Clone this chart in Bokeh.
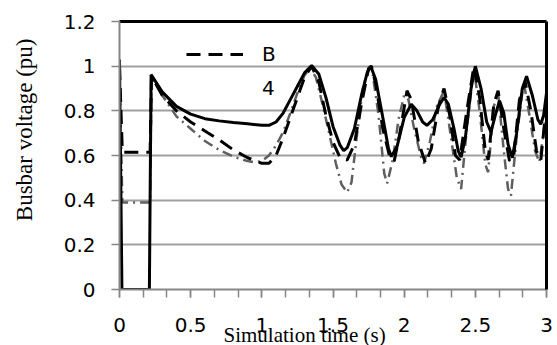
from bokeh.plotting import figure
from bokeh.models import (FixedTicker, LinearAxis, Legend, LegendItem, Title,
                          Range1d, NumeralTickFormatter)
from bokeh.embed import file_html
from bokeh.resources import INLINE

# ---------------- data ----------------
T_SOLID = [0, 0.017, 0.2, 0.21, 0.222, 0.3, 0.4, 0.5, 0.6, 0.7, 0.8, 0.9, 1.0,
           1.05, 1.1, 1.15, 1.2, 1.25, 1.3, 1.35, 1.4, 1.45, 1.5, 1.55, 1.575,
           1.6, 1.65, 1.7, 1.74, 1.765, 1.8, 1.85, 1.89, 1.91, 1.95, 2.0, 2.05,
           2.09, 2.13, 2.16, 2.2, 2.25, 2.28, 2.31, 2.35, 2.38, 2.4, 2.43, 2.47,
           2.5, 2.54, 2.58, 2.61, 2.64, 2.67, 2.7, 2.73, 2.76, 2.79, 2.83, 2.86,
           2.9, 2.94, 2.96, 2.98, 3.0]
V_SOLID = [1.03, 0, 0, 0, 0.962, 0.885, 0.82, 0.785, 0.765, 0.755, 0.748, 0.742,
           0.735, 0.735, 0.75, 0.79, 0.85, 0.91, 0.97, 1.003, 0.965, 0.86, 0.73,
           0.645, 0.622, 0.635, 0.72, 0.87, 0.97, 1.0, 0.94, 0.77, 0.63, 0.595,
           0.64, 0.77, 0.83, 0.8, 0.75, 0.735, 0.76, 0.83, 0.86, 0.83, 0.72,
           0.62, 0.593, 0.68, 0.9, 1.0, 0.9, 0.75, 0.705, 0.78, 0.845, 0.79,
           0.65, 0.59, 0.7, 0.9, 0.955, 0.87, 0.76, 0.74, 0.78, 0.88]

T_B = [0, 0.02, 0.2, 0.215, 0.225, 0.3, 0.4, 0.5, 0.6, 0.7, 0.8, 0.9, 1.0, 1.05,
       1.1, 1.15, 1.2, 1.25, 1.3, 1.35, 1.4, 1.45, 1.5, 1.55, 1.6, 1.65, 1.7,
       1.75, 1.77, 1.8, 1.85, 1.9, 1.93, 1.97, 2.02, 2.05, 2.1, 2.15, 2.19, 2.24,
       2.28, 2.32, 2.36, 2.39, 2.44, 2.49, 2.53, 2.57, 2.59, 2.63, 2.66, 2.7,
       2.74, 2.77, 2.81, 2.85, 2.89, 2.93, 2.96, 3.0]
V_B = [1.0, 0.615, 0.615, 0.615, 0.955, 0.87, 0.8, 0.75, 0.71, 0.67, 0.625,
       0.59, 0.565, 0.565, 0.6, 0.68, 0.77, 0.86, 0.95, 1.0, 0.93, 0.78, 0.66,
       0.59, 0.58, 0.65, 0.83, 0.99, 1.0, 0.92, 0.72, 0.59, 0.575, 0.7, 0.89,
       0.85, 0.66, 0.565, 0.63, 0.82, 0.9, 0.78, 0.6, 0.58, 0.8, 1.0, 0.86,
       0.62, 0.58, 0.83, 0.89, 0.72, 0.575, 0.6, 0.85, 0.93, 0.8, 0.62, 0.58,
       0.83]

T_DD = [0, 0.02, 0.2, 0.215, 0.225, 0.3, 0.4, 0.5, 0.6, 0.7, 0.8, 0.9, 0.95,
        1.0, 1.05, 1.1, 1.15, 1.2, 1.25, 1.3, 1.34, 1.38, 1.43, 1.48, 1.52, 1.56,
        1.6, 1.63, 1.67, 1.71, 1.75, 1.78, 1.82, 1.86, 1.88, 1.92, 1.96, 2.0,
        2.03, 2.07, 2.12, 2.14, 2.18, 2.23, 2.28, 2.32, 2.37, 2.4, 2.44, 2.49,
        2.53, 2.57, 2.59, 2.63, 2.66, 2.7, 2.73, 2.75, 2.79, 2.84, 2.88, 2.92,
        2.95, 2.98, 3.0]
V_DD = [1.0, 0.39, 0.39, 0.39, 0.955, 0.87, 0.775, 0.72, 0.665, 0.625, 0.595,
        0.575, 0.57, 0.575, 0.6, 0.645, 0.705, 0.79, 0.88, 0.96, 0.99, 0.95,
        0.82, 0.68, 0.565, 0.47, 0.435, 0.48, 0.7, 0.9, 0.99, 0.96, 0.78, 0.52,
        0.475, 0.58, 0.76, 0.87, 0.85, 0.72, 0.59, 0.565, 0.66, 0.82, 0.89,
        0.72, 0.5, 0.45, 0.72, 0.99, 0.8, 0.56, 0.525, 0.82, 0.88, 0.62, 0.45,
        0.42, 0.68, 0.93, 0.78, 0.62, 0.57, 0.7, 0.85]

X_TICKS = [0, 0.5, 1, 1.5, 2, 2.5, 3]
X_TICK_LABELS = ["0", "0.5", "1", "1.5", "2", "2.5", "3"]
X_MINOR = [0, 1/6, 2/6, 0.5, 4/6, 5/6, 1, 7/6, 8/6, 1.5, 10/6, 11/6, 2,
           13/6, 14/6, 2.5, 16/6, 17/6, 3]
Y_TICKS = [0, 0.2, 0.4, 0.6, 0.8, 1.0, 1.2]
Y_TICK_LABELS = ["0", "0.2", "0.4", "0.6", "0.8", "1", "1.2"]
GRID_Y = [0.2, 0.4, 0.6, 0.8, 1.0]

LEGEND_LABELS = ["B", "4"]
X_TITLE = "Simulation time (s)"
Y_TITLE = "Busbar voltage (pu)"

# ---------------- figure ----------------
p = figure(width=557, height=345, x_range=Range1d(0, 3), y_range=Range1d(0, 1.2),
           output_backend="svg", toolbar_location=None,
           min_border_left=119, min_border_right=11, min_border_top=21,
           min_border_bottom=56)
p.outline_line_color = None
p.background_fill_color = "white"
p.border_fill_color = "white"

p.xgrid.visible = False
p.ygrid.ticker = FixedTicker(ticks=GRID_Y)
p.ygrid.grid_line_color = "#a0a0a0"
p.ygrid.grid_line_width = 2

axis_gray = "#868686"
tick_font = "DejaVu Sans"

xa = p.xaxis[0]
xa.ticker = FixedTicker(ticks=X_TICKS, minor_ticks=X_MINOR)
xa.formatter = NumeralTickFormatter(format="0.[0]")
xa.major_label_overrides = dict(zip(X_TICKS, X_TICK_LABELS))
xa.axis_line_color = axis_gray
xa.axis_line_width = 2
xa.major_tick_line_color = axis_gray
xa.major_tick_line_width = 1.5
xa.minor_tick_line_color = axis_gray
xa.minor_tick_line_width = 1.5
xa.major_tick_in = 0
xa.major_tick_out = 8
xa.minor_tick_in = 0
xa.minor_tick_out = 8
xa.major_label_standoff = 20
xa.major_label_text_font = tick_font
xa.major_label_text_font_size = "20px"
xa.major_label_text_color = "black"

ya = p.yaxis[0]
ya.ticker = FixedTicker(ticks=Y_TICKS)
ya.formatter = NumeralTickFormatter(format="0.[0]")
ya.major_label_overrides = dict(zip(Y_TICKS, Y_TICK_LABELS))
ya.axis_line_color = axis_gray
ya.axis_line_width = 2
ya.major_tick_line_color = axis_gray
ya.major_tick_line_width = 1.5
ya.minor_tick_line_color = None
ya.major_tick_in = 0
ya.major_tick_out = 8
ya.major_label_standoff = 16
ya.major_label_text_font = tick_font
ya.major_label_text_font_size = "20px"
ya.major_label_text_color = "black"

# black frame lines on top and right
for side in ("above", "right"):
    ax = LinearAxis(ticker=FixedTicker(ticks=[]), axis_line_color="black",
                    axis_line_width=3, major_tick_line_color=None,
                    minor_tick_line_color=None, major_label_text_font_size="0px",
                    major_label_standoff=0)
    p.add_layout(ax, side)

# white (invisible) spacer on the left, pushing the y title outwards
spacer = LinearAxis(ticker=FixedTicker(ticks=[0.6]), axis_line_color=None,
                    major_tick_line_color="white", minor_tick_line_color=None,
                    major_tick_out=24, major_tick_in=0, minor_tick_out=0,
                    major_label_overrides={0.6: ""},
                    major_label_standoff=0)
p.add_layout(spacer, "left")

# ---------------- series ----------------
r_dd = p.line(T_DD, V_DD, line_color="#5f5f5f", line_width=2.5,
              line_dash="10 5 2 5")
r_b = p.line(T_B, V_B, line_color="black", line_width=3, line_dash="14 8")
r_s = p.line(T_SOLID, V_SOLID, line_color="black", line_width=3)
r_dummy = p.line(x=[], y=[], line_alpha=0)

legend = Legend(items=[LegendItem(label=LEGEND_LABELS[0], renderers=[r_b]),
                       LegendItem(label=LEGEND_LABELS[1], renderers=[r_dummy])],
                location=(67, 186), glyph_width=57, glyph_height=30,
                label_standoff=19, spacing=4, padding=0, margin=0,
                border_line_color=None, background_fill_alpha=0,
                label_text_font=tick_font, label_text_font_size="20px",
                label_text_color="black")
p.add_layout(legend)

# axis titles as side-panel titles (positioned off-centre like the reference)
p.add_layout(Title(text=Y_TITLE, align="right", offset=17,
                   vertical_align="bottom", standoff=0,
                   text_font="Liberation Serif", text_font_size="23px",
                   text_font_style="normal", text_color="black"), "left")
p.add_layout(Title(text=X_TITLE, align="left", offset=104,
                   vertical_align="top", standoff=-24,
                   text_font="Liberation Serif", text_font_size="21px",
                   text_font_style="normal", text_color="black"), "below")

open("out.html", "w").write(file_html(p, INLINE))
